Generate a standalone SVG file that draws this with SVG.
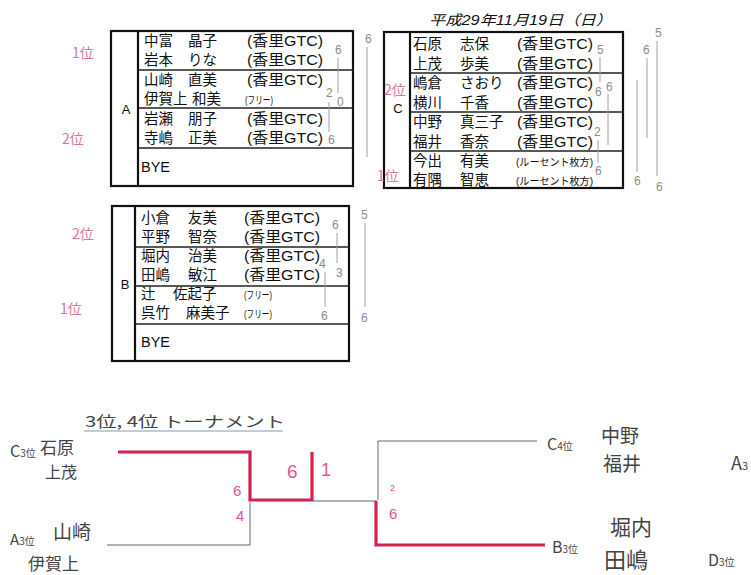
<svg xmlns="http://www.w3.org/2000/svg" width="751" height="575" viewBox="0 0 751 575">
<style>
.box{fill:none;stroke:#111;stroke-width:2.2}
.rule{stroke:#222;stroke-width:1.4}
.t{font-family:"Liberation Sans","Noto Sans CJK JP",sans-serif;font-size:14.5px;fill:#111}
.s{font-family:"Liberation Sans","Noto Sans CJK JP",sans-serif;font-size:10.5px;fill:#111}
.lt{font-family:"Liberation Sans",sans-serif;font-size:13px;fill:#111}
.pen{stroke:#a0a0a0;stroke-width:1;fill:none}
.pd{font-family:"Liberation Sans",sans-serif;font-size:12px;fill:#8c8c8c}
.pk{font-family:"Noto Sans CJK JP",sans-serif;font-size:14px;fill:#d9739c}
.pn{font-family:"Liberation Sans",sans-serif;fill:#e0588a}
.hw{font-family:"Noto Sans CJK JP",sans-serif;fill:#444}
.red{stroke:#d4204f;stroke-width:3.2;fill:none}
.gl{stroke:#666;stroke-width:1;fill:none}
</style>

<text x="429" y="25" font-family="Liberation Sans,Noto Sans CJK JP,sans-serif" font-size="14" font-style="italic" fill="#111" textLength="183" lengthAdjust="spacingAndGlyphs">平成29年11月19日（日）</text>

<g id="tableA">
<rect x="111" y="31" width="242" height="155" class="box"/>
<line x1="138" y1="31" x2="138" y2="186" class="box"/>
<line x1="138" y1="70" x2="353" y2="70" class="rule"/>
<line x1="138" y1="108" x2="353" y2="108" class="rule"/>
<line x1="138" y1="148" x2="353" y2="148" class="rule"/>
<text x="126" y="114" class="lt" text-anchor="middle">A</text>
<text x="144" y="46" class="t">中富</text><text x="188" y="46" class="t">晶子</text><text x="247" y="46" class="t" textLength="76" lengthAdjust="spacingAndGlyphs">(香里GTC)</text>
<text x="144" y="65" class="t">岩本</text><text x="188" y="65" class="t">りな</text><text x="247" y="65" class="t" textLength="76" lengthAdjust="spacingAndGlyphs">(香里GTC)</text>
<text x="144" y="85" class="t">山崎</text><text x="188" y="85" class="t">直美</text><text x="247" y="85" class="t" textLength="76" lengthAdjust="spacingAndGlyphs">(香里GTC)</text>
<text x="144" y="104" class="t">伊賀上</text><text x="192" y="104" class="t">和美</text><text x="245" y="104" class="s" textLength="28" lengthAdjust="spacingAndGlyphs">(フリー)</text>
<text x="144" y="124" class="t">岩瀬</text><text x="188" y="124" class="t">朋子</text><text x="247" y="124" class="t" textLength="76" lengthAdjust="spacingAndGlyphs">(香里GTC)</text>
<text x="144" y="143" class="t">寺嶋</text><text x="188" y="143" class="t">正美</text><text x="247" y="143" class="t" textLength="76" lengthAdjust="spacingAndGlyphs">(香里GTC)</text>
<text x="141" y="172" class="t">BYE</text>
</g>

<g id="scoresA">
<text x="335" y="54" class="pd">6</text>
<line x1="338" y1="58" x2="338" y2="93" class="pen"/>
<text x="326" y="97" class="pd" font-size="10">2</text>
<text x="337" y="106" class="pd">0</text>
<line x1="329" y1="102" x2="329" y2="132" class="pen"/>
<text x="328" y="144" class="pd">6</text>
<text x="365" y="43" class="pd">6</text>
<line x1="367" y1="47" x2="367" y2="157" class="pen"/>
</g>

<g id="tableC">
<rect x="384" y="32" width="239" height="156" class="box"/>
<line x1="410" y1="32" x2="410" y2="188" class="box"/>
<line x1="410" y1="73" x2="623" y2="73" class="rule"/>
<line x1="410" y1="112" x2="623" y2="112" class="rule"/>
<line x1="410" y1="151" x2="623" y2="151" class="rule"/>
<text x="398" y="113" class="lt" text-anchor="middle">C</text>
<text x="413" y="49" class="t">石原</text><text x="460" y="49" class="t">志保</text><text x="517" y="49" class="t" textLength="76" lengthAdjust="spacingAndGlyphs">(香里GTC)</text>
<text x="413" y="69" class="t">上茂</text><text x="460" y="69" class="t">歩美</text><text x="517" y="69" class="t" textLength="76" lengthAdjust="spacingAndGlyphs">(香里GTC)</text>
<text x="413" y="88" class="t">嶋倉</text><text x="460" y="88" class="t">さおり</text><text x="517" y="88" class="t" textLength="76" lengthAdjust="spacingAndGlyphs">(香里GTC)</text>
<text x="413" y="108" class="t">横川</text><text x="460" y="108" class="t">千香</text><text x="517" y="108" class="t" textLength="76" lengthAdjust="spacingAndGlyphs">(香里GTC)</text>
<text x="413" y="127" class="t">中野</text><text x="460" y="127" class="t">真三子</text><text x="517" y="127" class="t" textLength="76" lengthAdjust="spacingAndGlyphs">(香里GTC)</text>
<text x="413" y="147" class="t">福井</text><text x="460" y="147" class="t">香奈</text><text x="517" y="147" class="t" textLength="76" lengthAdjust="spacingAndGlyphs">(香里GTC)</text>
<text x="413" y="166" class="t">今出</text><text x="460" y="166" class="t">有美</text><text x="516" y="166" class="s" textLength="77" lengthAdjust="spacingAndGlyphs">(ルーセント枚方)</text>
<text x="413" y="185" class="t">有隅</text><text x="460" y="185" class="t">智恵</text><text x="516" y="185" class="s" textLength="77" lengthAdjust="spacingAndGlyphs">(ルーセント枚方)</text>
</g>

<g id="scoresC">
<text x="597" y="54" class="pd" fill="#b0b0b0">5</text>
<line x1="600" y1="57" x2="600" y2="82" class="pen"/>
<text x="595" y="96" class="pd">6</text>
<text x="606" y="91" class="pd">6</text>
<line x1="608" y1="94" x2="608" y2="145" class="pen"/>
<text x="594" y="136" class="pd" font-size="9">2</text>
<line x1="598" y1="140" x2="598" y2="163" class="pen"/>
<text x="595" y="175" class="pd">6</text>
<line x1="637" y1="80" x2="637" y2="172" class="pen"/>
<text x="634" y="185" class="pd">6</text>
<text x="643" y="54" class="pd">6</text>
<line x1="647" y1="58" x2="647" y2="138" class="pen"/>
<text x="655" y="37" class="pd" fill="#666">5</text>
<line x1="657" y1="41" x2="657" y2="176" class="pen"/>
<text x="656" y="191" class="pd">6</text>
</g>

<g id="tableB">
<rect x="112" y="206" width="237" height="155" class="box"/>
<line x1="135" y1="206" x2="135" y2="361" class="box"/>
<line x1="135" y1="247" x2="349" y2="247" class="rule"/>
<line x1="135" y1="286" x2="349" y2="286" class="rule"/>
<line x1="135" y1="324" x2="349" y2="324" class="rule"/>
<text x="125" y="289" class="lt" text-anchor="middle">B</text>
<text x="141" y="223" class="t">小倉</text><text x="188" y="223" class="t">友美</text><text x="244" y="223" class="t" textLength="76" lengthAdjust="spacingAndGlyphs">(香里GTC)</text>
<text x="141" y="242" class="t">平野</text><text x="188" y="242" class="t">智奈</text><text x="244" y="242" class="t" textLength="76" lengthAdjust="spacingAndGlyphs">(香里GTC)</text>
<text x="141" y="261" class="t">堀内</text><text x="188" y="261" class="t">治美</text><text x="244" y="261" class="t" textLength="76" lengthAdjust="spacingAndGlyphs">(香里GTC)</text>
<text x="141" y="280" class="t">田嶋</text><text x="188" y="280" class="t">敏江</text><text x="244" y="280" class="t" textLength="76" lengthAdjust="spacingAndGlyphs">(香里GTC)</text>
<text x="141" y="299" class="t">辻</text><text x="173" y="299" class="t">佐起子</text><text x="244" y="299" class="s" textLength="28" lengthAdjust="spacingAndGlyphs">(フリー)</text>
<text x="141" y="318" class="t">呉竹</text><text x="186" y="318" class="t">麻美子</text><text x="244" y="318" class="s" textLength="28" lengthAdjust="spacingAndGlyphs">(フリー)</text>
<text x="141" y="347" class="t">BYE</text>
</g>

<g id="scoresB">
<text x="332" y="229" class="pd">6</text>
<line x1="337" y1="233" x2="337" y2="263" class="pen"/>
<text x="336" y="277" class="pd">3</text>
<text x="319" y="268" class="pd">4</text>
<line x1="325" y1="272" x2="325" y2="307" class="pen"/>
<text x="321" y="320" class="pd">6</text>
<text x="361" y="219" class="pd">5</text>
<line x1="365" y1="223" x2="365" y2="307" class="pen"/>
<text x="361" y="322" class="pd">6</text>
</g>

<g id="ranks">
<text x="72" y="58" class="pk">1位</text>
<text x="62" y="144" class="pk" font-size="17">2位</text>
<text x="72" y="239" class="pk">2位</text>
<text x="60" y="314" class="pk" font-size="15">1位</text>
<text x="384" y="95" class="pk" font-size="13">2位</text>
<text x="377" y="181" class="pk" font-size="15">1位</text>
</g>

<g id="title">
<text x="85" y="427" class="hw" font-size="15" fill="#555" textLength="200" lengthAdjust="spacingAndGlyphs">3位, 4位  トーナメント</text>
<line x1="84" y1="431" x2="283" y2="431" stroke="#7f9cba" stroke-width="1.2"/>
</g>

<g id="connectors">
<path d="M118,452 H250 V500 H312 V452" class="red"/>
<path d="M250,502 V545 H107" class="gl"/>
<path d="M313,501 H377" class="gl"/>
<path d="M378,441 V500" class="gl"/>
<path d="M378,441 H537" class="gl"/>
<path d="M376,501 V545 H545" class="red"/>
</g>

<g id="bracketScores">
<text x="233" y="496" class="pn" font-size="15">6</text>
<text x="236" y="521" class="pn" font-size="15">4</text>
<text x="287" y="478" class="pn" font-size="19">6</text>
<text x="321" y="476" class="pn" font-size="18">1</text>
<text x="390" y="491" class="pn" font-size="9">2</text>
<text x="389" y="519" class="pn" font-size="15">6</text>
</g>

<g id="playerC3">
<text x="10" y="457" class="hw" font-size="16">C<tspan font-size="10">3位</tspan></text>
<text x="40" y="454" class="hw" font-size="17">石原</text>
<text x="45" y="478" class="hw" font-size="16">上茂</text>
</g>
<g id="playerA3">
<text x="10" y="545" class="hw" font-size="15">A<tspan font-size="10">3位</tspan></text>
<text x="53" y="539" class="hw" font-size="19">山崎</text>
<text x="28" y="570" class="hw" font-size="17">伊賀上</text>
</g>
<g id="playerC4">
<text x="547" y="450" class="hw" font-size="16">C<tspan font-size="10">4位</tspan></text>
<text x="601" y="443" class="hw" font-size="19">中野</text>
<text x="603" y="471" class="hw" font-size="19">福井</text>
</g>
<g id="playerB3">
<text x="552" y="553" class="hw" font-size="16">B<tspan font-size="10">3位</tspan></text>
<text x="610" y="535" class="hw" font-size="21">堀内</text>
<text x="604" y="568" class="hw" font-size="22">田嶋</text>
</g>
<g id="sideNotes">
<text x="731" y="470" class="hw" font-size="18">A<tspan font-size="11">3</tspan></text>
<text x="708" y="566" class="hw" font-size="16">D<tspan font-size="10">3位</tspan></text>
</g>
</svg>
